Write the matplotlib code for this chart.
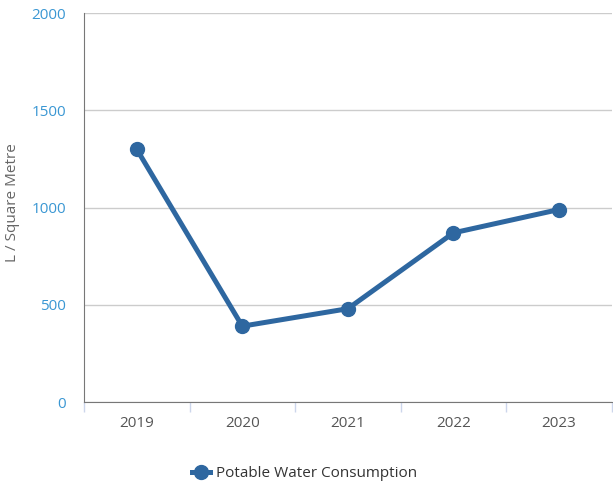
import matplotlib
matplotlib.use("Agg")
import matplotlib.pyplot as plt
from matplotlib.lines import Line2D

years = ["2019", "2020", "2021", "2022", "2023"]
consumption = [1300, 390, 480, 870, 990]
y_ticks = [0, 500, 1000, 1500, 2000]
series_name = "Potable Water Consumption"
y_label = "L / Square Metre"

plt.rcParams['font.family'] = ['Open Sans', 'DejaVu Sans']

fig = plt.figure(figsize=(6.13, 4.87), dpi=100)
ax = fig.add_axes([0.137, 0.1745, 0.861, 0.7985])

line_color = "#2e67a0"
x = list(range(len(years)))
ax.plot(x, consumption, color=line_color, lw=3.6, marker="o", markersize=10,
        solid_capstyle="round", zorder=3)

ax.set_xlim(-0.5, len(years) - 0.5)
ax.set_ylim(0, 2000)
ax.set_yticks(y_ticks)
ax.set_yticklabels([str(v) for v in y_ticks], color="#3a97d3", fontsize=11)
ax.yaxis.grid(True, color="#cccccc", lw=1)
ax.tick_params(axis="y", length=0, pad=13)

ax.set_xticks(x)
ax.set_xticklabels(years, color="#555555", fontsize=11)
ax.set_xticks([i - 0.5 for i in range(len(years) + 1)], minor=True)
ax.tick_params(axis="x", which="major", length=0, pad=10)
ax.tick_params(axis="x", which="minor", length=7, color="#ccd6eb", width=1)

for s in ["top", "right"]:
    ax.spines[s].set_visible(False)
ax.spines["left"].set_color("#777777")
ax.spines["bottom"].set_color("#777777")
ax.set_axisbelow(True)

fig.text(13 / 613, 1 - 203 / 487, y_label, rotation=90, ha="center", va="center",
         color="#666666", fontsize=11)

handle = Line2D([0], [0], color=line_color, lw=3.6, marker="o", markersize=10)
fig.legend([handle], [series_name], loc="center", bbox_to_anchor=(0.497, 0.028),
           frameon=False, fontsize=11, handlelength=1.2, handletextpad=0.4,
           labelcolor="#333333")

fig.savefig("out.png", dpi=100)
